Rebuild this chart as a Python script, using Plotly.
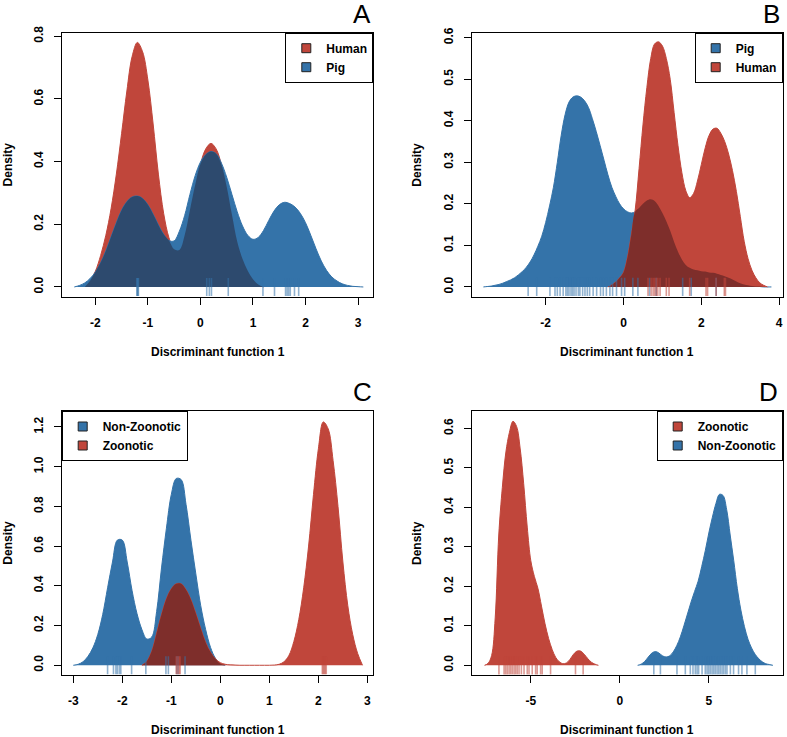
import plotly.graph_objects as go

# ---------------- data ----------------
# Panel A: Human vs Pig
A_HUMAN_X = [-2.2, -2.1, -2.0, -1.9, -1.8, -1.7, -1.6, -1.5, -1.4, -1.3, -1.2, -1.1, -1.0, -0.9, -0.8, -0.7, -0.6, -0.5, -0.4, -0.3,
             -0.2, -0.1, 0.0, 0.1, 0.2, 0.3, 0.4, 0.5, 0.6, 0.7, 0.8, 0.9, 1.0, 1.1, 1.2]
A_HUMAN_Y = [0.0, 0.02, 0.05, 0.10, 0.165, 0.25, 0.36, 0.49, 0.625, 0.735, 0.78, 0.75, 0.66, 0.52, 0.36, 0.235, 0.158, 0.12, 0.118, 0.165,
             0.245, 0.325, 0.392, 0.44, 0.458, 0.44, 0.39, 0.32, 0.23, 0.145, 0.09, 0.052, 0.025, 0.008, 0.0]
A_PIG_X = [-2.4, -2.3, -2.2, -2.1, -2.0, -1.9, -1.8, -1.7, -1.6, -1.5, -1.4, -1.3, -1.2, -1.1, -1.0, -0.9, -0.8, -0.7, -0.6, -0.5,
           -0.4, -0.3, -0.2, -0.1, 0.0, 0.1, 0.2, 0.3, 0.4, 0.5, 0.6, 0.7, 0.8, 0.9, 1.0, 1.1, 1.2, 1.3, 1.4, 1.5,
           1.6, 1.7, 1.8, 1.9, 2.0, 2.1, 2.2, 2.3, 2.4, 2.5, 2.6, 2.7, 2.8, 2.9, 3.0, 3.1]
A_PIG_Y = [0.0, 0.005, 0.013, 0.027, 0.047, 0.077, 0.115, 0.16, 0.205, 0.245, 0.272, 0.287, 0.29, 0.282, 0.262, 0.232, 0.198, 0.168, 0.148, 0.147,
           0.178, 0.228, 0.295, 0.355, 0.398, 0.422, 0.432, 0.425, 0.395, 0.35, 0.295, 0.24, 0.195, 0.165, 0.152, 0.158, 0.18, 0.212, 0.242, 0.262,
           0.27, 0.266, 0.255, 0.235, 0.205, 0.165, 0.122, 0.083, 0.053, 0.032, 0.019, 0.01, 0.005, 0.002, 0.001, 0.0]
A_HUMAN_RUG = []  # hidden under the Pig rug in the reference
A_PIG_RUG = [-1.21, -1.20, -1.19, -1.18, 0.12, 0.17, 0.21, 0.53, 1.19, 1.41, 1.62, 1.65, 1.68, 1.71, 1.79, 1.87]

# Panel B: Pig vs Human
B_PIG_X = [-3.6, -3.5, -3.4, -3.3, -3.2, -3.1, -3.0, -2.9, -2.8, -2.7, -2.6, -2.5, -2.4, -2.3, -2.2, -2.1, -2.0, -1.9, -1.8, -1.7,
           -1.6, -1.5, -1.4, -1.3, -1.2, -1.1, -1.0, -0.9, -0.8, -0.7, -0.6, -0.5, -0.4, -0.3, -0.2, -0.1, 0.0, 0.1, 0.2, 0.3,
           0.4, 0.5, 0.6, 0.7, 0.8, 0.9, 1.0, 1.1, 1.2, 1.3, 1.4, 1.5, 1.6, 1.7, 1.8, 1.9, 2.0, 2.1, 2.2, 2.3,
           2.4, 2.5, 2.6, 2.7, 2.8, 2.9, 3.0, 3.1, 3.2, 3.3, 3.4, 3.5, 3.6, 3.7, 3.8]
B_PIG_Y = [0.0, 0.001, 0.002, 0.004, 0.006, 0.009, 0.013, 0.017, 0.022, 0.029, 0.037, 0.047, 0.06, 0.077, 0.098, 0.122, 0.155, 0.195, 0.24, 0.30,
           0.365, 0.415, 0.445, 0.457, 0.46, 0.457, 0.448, 0.432, 0.405, 0.374, 0.34, 0.305, 0.27, 0.24, 0.218, 0.2, 0.188, 0.181, 0.178, 0.181,
           0.19, 0.2, 0.208, 0.211, 0.207, 0.195, 0.178, 0.158, 0.135, 0.108, 0.085, 0.066, 0.053, 0.046, 0.042, 0.04, 0.038, 0.037, 0.035, 0.034,
           0.032, 0.029, 0.026, 0.022, 0.018, 0.013, 0.009, 0.006, 0.004, 0.002, 0.001, 0.001, 0.0, 0.0, 0.0]
B_HUMAN_X = [-0.4, -0.3, -0.2, -0.1, 0.0, 0.1, 0.2, 0.3, 0.4, 0.5, 0.6, 0.7, 0.8, 0.9, 1.0, 1.1, 1.2, 1.3, 1.4, 1.5,
             1.6, 1.7, 1.8, 1.9, 2.0, 2.1, 2.2, 2.3, 2.4, 2.5, 2.6, 2.7, 2.8, 2.9, 3.0, 3.1, 3.2, 3.3, 3.4, 3.5,
             3.6, 3.7]
B_HUMAN_Y = [0.0, 0.005, 0.012, 0.022, 0.035, 0.07, 0.125, 0.185, 0.285, 0.39, 0.48, 0.55, 0.585, 0.59, 0.58, 0.55, 0.5, 0.42, 0.34, 0.275,
             0.232, 0.215, 0.225, 0.255, 0.295, 0.335, 0.365, 0.38, 0.382, 0.37, 0.35, 0.32, 0.28, 0.23, 0.17, 0.11, 0.068, 0.04, 0.022, 0.01,
             0.004, 0.0]
B_PIG_RUG = [-2.45, -2.23, -1.89, -1.76, -1.70, -1.63, -1.55, -1.48, -1.44, -1.40, -1.35, -1.31, -1.27, -1.22, -1.16, -1.12, -1.05,
             -0.99, -0.93, -0.87, -0.78, -0.69, -0.59, -0.52, -0.44, -0.35, -0.28, -0.18, -0.05, 0.03, 0.24, 0.37, 0.67, 0.84,
             1.52, 1.74, 2.38]
B_HUMAN_RUG = [0.63, 0.71, 0.76, 0.80, 0.84, 0.88, 0.94, 1.10, 1.17, 1.70, 2.12, 2.16, 2.38, 2.59, 2.62]

# Panel C: Non-Zoonotic vs Zoonotic
C_NONZOO_X = [-3.0, -2.9, -2.8, -2.7, -2.6, -2.5, -2.4, -2.3, -2.2, -2.1, -2.0, -1.9, -1.8, -1.7, -1.6, -1.5, -1.4, -1.3, -1.2, -1.1,
              -1.0, -0.9, -0.8, -0.7, -0.6, -0.5, -0.4, -0.3, -0.2, -0.1, 0.0, 0.1]
C_NONZOO_Y = [0.0, 0.005, 0.018, 0.045, 0.088, 0.155, 0.255, 0.39, 0.52, 0.63, 0.63, 0.52, 0.375, 0.26, 0.18, 0.132, 0.142, 0.27, 0.49, 0.69,
              0.86, 0.94, 0.935, 0.81, 0.63, 0.46, 0.3, 0.18, 0.09, 0.035, 0.008, 0.0]
C_ZOO_X = [-1.6, -1.5, -1.4, -1.3, -1.2, -1.1, -1.0, -0.9, -0.8, -0.7, -0.6, -0.5, -0.4, -0.3, -0.2, -0.1, 0.0, 0.1, 0.2, 0.3,
           0.4, 0.5, 0.6, 0.7, 0.8, 0.9, 1.0, 1.1, 1.2, 1.3, 1.4, 1.5, 1.6, 1.7, 1.8, 1.9, 2.0, 2.1, 2.2, 2.3,
           2.4, 2.5, 2.6, 2.7, 2.8, 2.9]
C_ZOO_Y = [0.0, 0.02, 0.07, 0.16, 0.255, 0.335, 0.385, 0.41, 0.41, 0.38, 0.33, 0.26, 0.185, 0.115, 0.065, 0.032, 0.013, 0.005, 0.002, 0.001,
           0.0, 0.0, 0.0, 0.0, 0.0, 0.0, 0.0, 0.001, 0.005, 0.018, 0.05, 0.12, 0.23, 0.39, 0.6, 0.86, 1.09, 1.225, 1.19, 1.03,
           0.8, 0.52, 0.3, 0.155, 0.06, 0.0]
C_NONZOO_RUG = [-2.30, -2.18, -2.13, -2.10, -2.06, -2.03, -1.81, -1.52, -1.11, -1.06, -0.89, -0.86, -0.72]
C_ZOO_RUG = [-0.90, -0.87, -0.84, -0.82, 2.08, 2.10, 2.12, 2.14, 2.16]

# Panel D: Zoonotic vs Non-Zoonotic
D_ZOO_X = [-7.6, -7.4, -7.2, -7.0, -6.8, -6.6, -6.4, -6.2, -6.0, -5.8, -5.6, -5.4, -5.2, -5.0, -4.8, -4.6, -4.4, -4.2, -4.0, -3.8,
           -3.6, -3.4, -3.2, -3.0, -2.8, -2.6, -2.4, -2.2, -2.0, -1.8, -1.6, -1.4, -1.2]
D_ZOO_Y = [0.0, 0.005, 0.025, 0.12, 0.33, 0.45, 0.54, 0.59, 0.618, 0.605, 0.55, 0.46, 0.35, 0.265, 0.225, 0.195, 0.15, 0.105, 0.068, 0.04,
           0.02, 0.009, 0.004, 0.006, 0.015, 0.028, 0.036, 0.036, 0.028, 0.017, 0.008, 0.003, 0.0]
D_NONZOO_X = [1.0, 1.2, 1.4, 1.6, 1.8, 2.0, 2.2, 2.4, 2.6, 2.8, 3.0, 3.2, 3.4, 3.6, 3.8, 4.0, 4.2, 4.4, 4.6, 4.8,
              5.0, 5.2, 5.4, 5.6, 5.8, 6.0, 6.2, 6.4, 6.6, 6.8, 7.0, 7.2, 7.4, 7.6, 7.8, 8.0, 8.2, 8.4, 8.6]
D_NONZOO_Y = [0.0, 0.003, 0.01, 0.021, 0.031, 0.035, 0.031, 0.024, 0.021, 0.024, 0.034, 0.05, 0.072, 0.1, 0.13, 0.16, 0.187, 0.213, 0.25, 0.29,
              0.335, 0.375, 0.41, 0.433, 0.43, 0.395, 0.33, 0.265, 0.195, 0.14, 0.098, 0.066, 0.044, 0.028, 0.017, 0.009, 0.004, 0.002, 0.0]
D_ZOO_RUG = [-6.79, -6.50, -6.41, -6.32, -6.22, -6.13, -6.04, -5.94, -5.85, -5.76, -5.66, -5.53, -5.38, -5.20, -5.10, -4.92,
             -4.73, -4.64, -4.45, -4.36, -3.89, -2.49, -2.06]
D_NONZOO_RUG = [1.91, 2.28, 3.21, 3.68, 3.96, 4.11, 4.24, 4.34, 4.43, 4.62, 4.80, 4.90, 4.99, 5.08, 5.18, 5.27, 5.36, 5.46,
                5.55, 5.64, 5.74, 5.83, 5.93, 6.02, 6.21, 6.39, 6.67, 6.86, 7.14, 7.61]

# tick values / labels
A_XTICKS = [-2, -1, 0, 1, 2, 3]
A_XTICKTEXT = ["-2", "-1", "0", "1", "2", "3"]
A_YTICKS = [0.0, 0.2, 0.4, 0.6, 0.8]
A_YTICKTEXT = ["0.0", "0.2", "0.4", "0.6", "0.8"]
B_XTICKS = [-2, 0, 2, 4]
B_XTICKTEXT = ["-2", "0", "2", "4"]
B_YTICKS = [0.0, 0.1, 0.2, 0.3, 0.4, 0.5, 0.6]
B_YTICKTEXT = ["0.0", "0.1", "0.2", "0.3", "0.4", "0.5", "0.6"]
C_XTICKS = [-3, -2, -1, 0, 1, 2, 3]
C_XTICKTEXT = ["-3", "-2", "-1", "0", "1", "2", "3"]
C_YTICKS = [0.0, 0.2, 0.4, 0.6, 0.8, 1.0, 1.2]
C_YTICKTEXT = ["0.0", "0.2", "0.4", "0.6", "0.8", "1.0", "1.2"]
D_XTICKS = [-5, 0, 5]
D_XTICKTEXT = ["-5", "0", "5"]
D_YTICKS = [0.0, 0.1, 0.2, 0.3, 0.4, 0.5, 0.6]
D_YTICKTEXT = ["0.0", "0.1", "0.2", "0.3", "0.4", "0.5", "0.6"]

PANEL_LABELS = ["A", "B", "C", "D"]
X_TITLE = "Discriminant function 1"
Y_TITLE = "Density"

# ---------------- styling ----------------
RED = "#c0463b"
BLUE = "#3473a9"
NAVY = "#2d4a6e"      # blue over red
DARKRED = "#7e2e2b"   # red over blue
RUG_RED = "rgba(192,70,59,0.55)"
RUG_BLUE = "rgba(52,115,169,0.55)"
FONT = "Liberation Sans, Arial, Helvetica, sans-serif"
W, H = 787, 737

def px(v):
    return v / W

def py(v):
    return 1 - v / H

XDOM_L = [px(61.7), px(373.3)]
XDOM_R = [px(471.7), px(782.7)]
YDOM_T = [py(296.7), py(32.7)]
YDOM_B = [py(675.0), py(411.0)]

panels = [
    dict(ax="", lg="legend", xdom=XDOM_L, ydom=YDOM_T, xr=[-2.64, 3.29], yr=[-0.031, 0.811],
         xt=A_XTICKS, xtt=A_XTICKTEXT, yt=A_YTICKS, ytt=A_YTICKTEXT,
         s1=("Human", A_HUMAN_X, A_HUMAN_Y, RED, A_HUMAN_RUG, RUG_RED),
         s2=("Pig", A_PIG_X, A_PIG_Y, BLUE, A_PIG_RUG, RUG_BLUE),
         ov=NAVY, legpos=dict(x=XDOM_L[1], y=YDOM_T[1], xanchor="right", yanchor="top"),
         letter=(362, 14), ytitle_x=7.7),
    dict(ax="2", lg="legend2", xdom=XDOM_R, ydom=YDOM_T, xr=[-3.9, 4.09], yr=[-0.0235, 0.612],
         xt=B_XTICKS, xtt=B_XTICKTEXT, yt=B_YTICKS, ytt=B_YTICKTEXT,
         s1=("Pig", B_PIG_X, B_PIG_Y, BLUE, B_PIG_RUG, RUG_BLUE),
         s2=("Human", B_HUMAN_X, B_HUMAN_Y, RED, B_HUMAN_RUG, RUG_RED),
         ov=DARKRED, legpos=dict(x=XDOM_R[1], y=YDOM_T[1], xanchor="right", yanchor="top"),
         letter=(771.7, 14), ytitle_x=417),
    dict(ax="3", lg="legend3", xdom=XDOM_L, ydom=YDOM_B, xr=[-3.236, 3.12], yr=[-0.049, 1.28],
         xt=C_XTICKS, xtt=C_XTICKTEXT, yt=C_YTICKS, ytt=C_YTICKTEXT,
         s1=("Non-Zoonotic", C_NONZOO_X, C_NONZOO_Y, BLUE, C_NONZOO_RUG, RUG_BLUE),
         s2=("Zoonotic", C_ZOO_X, C_ZOO_Y, RED, C_ZOO_RUG, RUG_RED),
         ov=DARKRED, legpos=dict(x=XDOM_L[0], y=YDOM_B[1], xanchor="left", yanchor="top"),
         letter=(362.7, 391.7), ytitle_x=7.7),
    dict(ax="4", lg="legend4", xdom=XDOM_R, ydom=YDOM_B, xr=[-8.32, 9.15], yr=[-0.0245, 0.644],
         xt=D_XTICKS, xtt=D_XTICKTEXT, yt=D_YTICKS, ytt=D_YTICKTEXT,
         s1=("Zoonotic", D_ZOO_X, D_ZOO_Y, RED, D_ZOO_RUG, RUG_RED),
         s2=("Non-Zoonotic", D_NONZOO_X, D_NONZOO_Y, BLUE, D_NONZOO_RUG, RUG_BLUE),
         ov=DARKRED, legpos=dict(x=XDOM_R[1], y=YDOM_B[1], xanchor="right", yanchor="top"),
         letter=(768, 391.7), ytitle_x=417),
]

fig = go.Figure()
annotations = []
layout = {}

for i, p in enumerate(panels):
    xa, ya = "x" + p["ax"], "y" + p["ax"]
    # density fills
    for s in (p["s1"], p["s2"]):
        name, xs, ys, col, rug, rcol = s
        fig.add_trace(go.Scatter(x=xs, y=ys, mode="lines", fill="tozeroy", fillcolor=col,
                                 line=dict(color=col, width=1, shape="spline", smoothing=1.0),
                                 xaxis=xa, yaxis=ya, showlegend=False, hoverinfo="skip"))
    # overlap region (both densities present)
    d1 = {round(x, 2): y for x, y in zip(p["s1"][1], p["s1"][2])}
    d2 = {round(x, 2): y for x, y in zip(p["s2"][1], p["s2"][2])}
    common = sorted(set(d1) & set(d2))
    if common:
        oy = [min(d1[k], d2[k]) for k in common]
        fig.add_trace(go.Scatter(x=common, y=oy, mode="lines", fill="tozeroy", fillcolor=p["ov"],
                                 line=dict(color=p["ov"], width=0, shape="spline", smoothing=1.0),
                                 xaxis=xa, yaxis=ya, showlegend=False, hoverinfo="skip"))
    # rugs
    for s in (p["s1"], p["s2"]):
        name, xs, ys, col, rug, rcol = s
        if rug:
            fig.add_trace(go.Scatter(x=rug, y=[0] * len(rug), mode="markers",
                                     marker=dict(symbol="line-ns", size=13, line=dict(color=rcol, width=1.6)),
                                     xaxis=xa, yaxis=ya, showlegend=False, hoverinfo="skip"))
    # legend entries
    for s in (p["s1"], p["s2"]):
        name, xs, ys, col, rug, rcol = s
        fig.add_trace(go.Scatter(x=[None], y=[None], mode="markers", name=name,
                                 marker=dict(symbol="square", size=9, color=col, line=dict(color="#222", width=1)),
                                 xaxis=xa, yaxis=ya, legend=p["lg"], showlegend=True, hoverinfo="skip"))

    tickfont = dict(family=FONT, size=12, color="black", weight="bold")
    layout["xaxis" + p["ax"]] = dict(domain=p["xdom"], range=p["xr"], anchor=ya, tickvals=p["xt"], ticktext=p["xtt"],
                                     ticks="outside", ticklen=7, tickwidth=1, tickcolor="black",
                                     showline=True, linecolor="black", linewidth=1, mirror=True,
                                     showgrid=False, zeroline=False, tickfont=tickfont, automargin=False,
                                     ticklabelstandoff=8, fixedrange=True)
    layout["yaxis" + p["ax"]] = dict(domain=p["ydom"], range=p["yr"], anchor=xa, tickvals=p["yt"], ticktext=p["ytt"],
                                     ticks="outside", ticklen=7, tickwidth=1, tickcolor="black", tickangle=-90,
                                     showline=True, linecolor="black", linewidth=1, mirror=True,
                                     showgrid=False, zeroline=False, tickfont=tickfont, automargin=False,
                                     ticklabelstandoff=6, fixedrange=True)
    layout[p["lg"]] = dict(**p["legpos"], bgcolor="white", bordercolor="black", borderwidth=1,
                           font=dict(family=FONT, size=12, color="black", weight="bold"),
                           tracegroupgap=0, itemclick=False, itemdoubleclick=False)

    # panel letter
    lx, ly = p["letter"]
    annotations.append(dict(text=PANEL_LABELS[i], x=px(lx), y=py(ly), xref="paper", yref="paper",
                            showarrow=False, xanchor="center", yanchor="middle",
                            font=dict(family=FONT, size=26, color="black")))
    # axis titles
    xc = (p["xdom"][0] + p["xdom"][1]) / 2
    ybot_px = (1 - p["ydom"][0]) * H
    annotations.append(dict(text=X_TITLE, x=xc, y=py(ybot_px + 55), xref="paper", yref="paper",
                            showarrow=False, xanchor="center", yanchor="middle",
                            font=dict(family=FONT, size=12, color="black", weight="bold")))
    yc = (p["ydom"][0] + p["ydom"][1]) / 2
    annotations.append(dict(text=Y_TITLE, x=px(p["ytitle_x"]), y=yc, xref="paper", yref="paper",
                            showarrow=False, xanchor="center", yanchor="middle", textangle=-90,
                            font=dict(family=FONT, size=12, color="black", weight="bold")))

fig.update_layout(width=W, height=H, margin=dict(l=0, r=0, t=0, b=0),
                  paper_bgcolor="white", plot_bgcolor="white", hovermode=False,
                  annotations=annotations, **layout)

fig.write_html("out.html", config={"displayModeBar": False, "staticPlot": False},
               post_script="document.body.style.margin='0px';")
